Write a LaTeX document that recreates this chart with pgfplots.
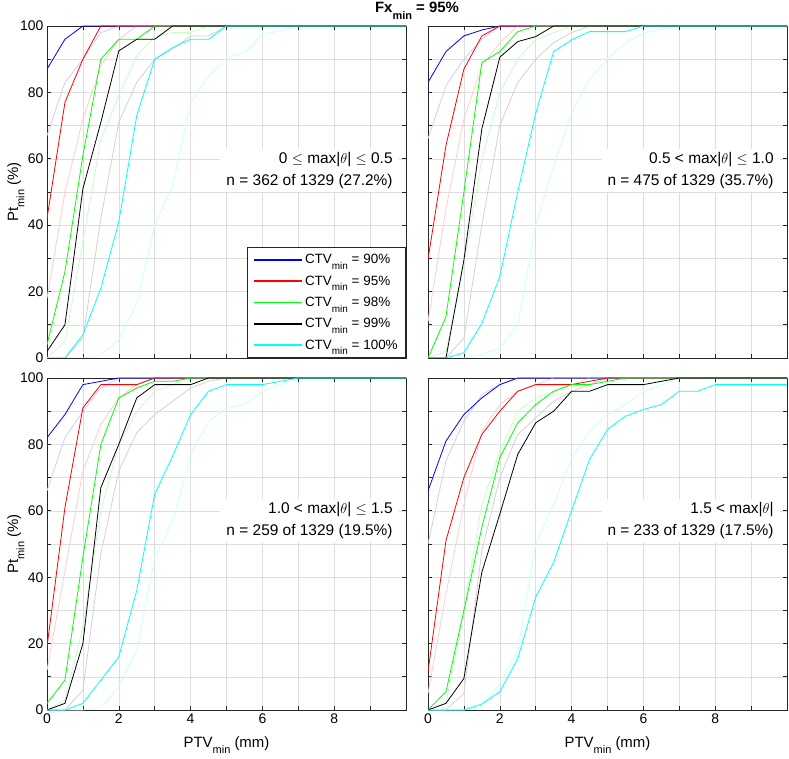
\documentclass[border=0pt]{standalone}
\usepackage{fontspec}
\setmainfont{Liberation Sans}
\usepackage{pgfplots}
\pgfplotsset{compat=1.18}
\definecolor{mB}{rgb}{0,0,1}
\definecolor{mR}{rgb}{1,0,0}
\definecolor{mG}{rgb}{0,1,0}
\definecolor{mK}{rgb}{0,0,0}
\definecolor{mC}{rgb}{0,1,1}
\definecolor{lB}{rgb}{0.8,0.8,1}
\definecolor{lR}{rgb}{1,0.8,0.8}
\definecolor{lG}{rgb}{0.78,1,0.78}
\definecolor{lK}{rgb}{0.82,0.82,0.82}
\definecolor{lC}{rgb}{0.8,1,1}
\newcommand{\sub}[2][10.5]{\raisebox{-0.42em}{\fontsize{#1}{#1}\selectfont #2}}
\tikzset{
  anno/.style={fill=white, align=right, anchor=east, inner xsep=6bp, inner ysep=3bp,
     font=\fontsize{15.5}{22.5}\selectfont},
}
\pgfplotsset{
  panel/.style={
    scale only axis, width=359bp, height=332bp,
    anchor=south west,
    xmin=0, xmax=10, ymin=0, ymax=100,
    xtick={0,...,10}, ytick={0,10,...,100},
    xticklabels={0,,2,,4,,6,,8,,},
    yticklabels={0,,20,,40,,60,,80,,100},
    grid=major, major grid style={black!13, line width=0.5bp},
    axis line style={black!85, line width=0.6bp},
    every tick/.style={black!85, line width=0.6bp},
    major tick length=4bp,
    tick align=inside,
    tick label style={font=\fontsize{14}{14}\selectfont},
    /pgf/number format/assume math mode=true,
    every axis plot/.append style={line join=round, mark=none, line width=0.8bp},
  },
}
\begin{document}
\begin{tikzpicture}
\useasboundingbox (0,0) rectangle (789bp,759bp);
% ---------------- top left
\begin{axis}[panel, at={(47bp,401bp)}, xticklabels={},
  legend style={at={(1,0)}, anchor=south east, draw=black!85, fill=white, line width=0.6bp,
    font=\fontsize{13.5}{13.5}\selectfont, row sep=6.5bp, inner xsep=6bp, inner ysep=5bp},
  legend cell align=left,
  legend image code/.code={\draw[#1, line width=1.6bp] (0bp,0bp) -- (48bp,0bp);}]
\addplot[lB, forget plot] coordinates {(0,67)(0.5,83)(1,90)(1.5,98)(2,100)(10,100)};
\addplot[lR, forget plot] coordinates {(0,18)(0.5,50)(1,72)(1.5,88)(2,96)(2.5,100)(10,100)};
\addplot[lG, forget plot] coordinates {(0,0)(0.5,5)(1,35)(1.5,66)(2,79)(2.5,91)(3,97)(3.5,98)(4,98)(4.5,100)(10,100)};
\addplot[lK, forget plot] coordinates {(0,0)(0.5,0)(1,6)(1.5,42)(2,71)(2.5,83)(3,90)(3.5,93)(4,97)(4.5,97)(5,100)(10,100)};
\addplot[lC, forget plot] coordinates {(0,0)(1,0)(1.5,1)(2,5.5)(2.5,16.5)(3,40)(3.5,52)(4,77)(4.5,85)(5,90.5)(5.5,92)(6,97.5)(6.5,98.5)(7,100)(10,100)};
\addplot[mB] coordinates {(0,87)(0.5,96)(1,100)(10,100)};
\addlegendentry{CTV\sub[10]{min} = 90\%}
\addplot[mR] coordinates {(0,42)(0.5,77)(1,90)(1.5,100)(10,100)};
\addlegendentry{CTV\sub[10]{min} = 95\%}
\addplot[mG] coordinates {(0,4)(0.5,26)(1,61)(1.5,90)(2,96)(2.5,96)(3,100)(10,100)};
\addlegendentry{CTV\sub[10]{min} = 98\%}
\addplot[mK] coordinates {(0,2)(0.5,10)(1,51)(1.5,71)(2,92.5)(2.5,96)(3,96)(3.5,100)(10,100)};
\addlegendentry{CTV\sub[10]{min} = 99\%}
\addplot[mC] coordinates {(0,0)(0.5,0)(1,7)(1.5,21)(2,41)(2.5,73)(3,90)(3.5,93.5)(4,96)(4.5,96)(5,100)(10,100)};
\addlegendentry{CTV\sub[10]{min} = 100\%}
\node[anno] at (axis cs:9.8,56.5) {0 $\leq$ max|$\theta$| $\leq$ 0.5\\n = 362 of 1329 (27.2\%)};
\end{axis}
% ---------------- top right
\begin{axis}[panel, at={(428bp,401bp)}, xticklabels={}, yticklabels={}]
\addplot[lB] coordinates {(0,66)(0.5,82)(1,90)(1.5,96)(2,100)(10,100)};
\addplot[lR] coordinates {(0,11)(0.5,45)(1,72)(1.5,88)(2,95)(2.5,100)(10,100)};
\addplot[lG] coordinates {(0,0)(0.5,2)(1,28)(1.5,60)(2,80)(2.5,90)(3,96)(3.5,98)(4,100)(10,100)};
\addplot[lK] coordinates {(0,0)(0.5,0)(1,6)(1.5,40)(2,70)(2.5,83)(3,90)(3.5,95)(4,98)(4.5,100)(10,100)};
\addplot[lC] coordinates {(0,0)(1,0)(1.5,1)(2,3)(2.5,10)(3,40)(3.5,58)(4,74)(4.5,84)(5,90)(5.5,95)(6,98)(7,100)(10,100)};
\addplot[mB] coordinates {(0,83)(0.5,92.3)(1,97)(1.5,98.8)(2,100)(10,100)};
\addplot[mR] coordinates {(0,29.7)(0.5,64)(1,87)(1.5,97)(2,100)(10,100)};
\addplot[mG] coordinates {(0,0)(0.5,12.4)(1,50)(1.5,89)(2,92.3)(2.5,98.3)(3,100)(10,100)};
\addplot[mK] coordinates {(0,0)(0.5,0)(1,29.5)(1.5,69)(2,90.6)(2.5,95.3)(3,96.8)(3.5,100)(10,100)};
\addplot[mC] coordinates {(0,0)(0.5,0)(1,1.6)(1.5,10.4)(2,24.5)(2.5,50)(3,73.7)(3.5,92.3)(4,95.8)(4.5,98.3)(5,98.3)(5.5,98.3)(6,100)(10,100)};
\node[anno] at (axis cs:9.8,56.5) {0.5 < max|$\theta$| $\leq$ 1.0\\n = 475 of 1329 (35.7\%)};
\end{axis}
% ---------------- bottom left
\begin{axis}[panel, at={(47bp,49bp)}]
\addplot[lB] coordinates {(0,66)(0.5,82)(1,90)(1.5,97)(2,100)(10,100)};
\addplot[lR] coordinates {(0,12)(0.5,42)(1,72)(1.5,86)(2,94)(2.5,98)(3,100)(10,100)};
\addplot[lG] coordinates {(0,0)(0.5,3)(1,25)(1.5,60)(2,80)(2.5,90)(3,96)(3.5,98)(4,100)(10,100)};
\addplot[lK] coordinates {(0,0)(0.5,0)(1,6)(1.5,47)(2,72)(2.5,83.5)(3,89)(3.5,93)(4,97)(4.5,99)(5,100)(10,100)};
\addplot[lC] coordinates {(0,0)(1,0)(1.5,1)(2,7)(2.5,18)(3,46)(3.5,57)(4,77)(4.5,87)(5,91)(5.5,92)(6,96)(6.5,98)(7,100)(10,100)};
\addplot[mB] coordinates {(0,82)(0.5,89)(1,98)(1.5,99)(2,100)(10,100)};
\addplot[mR] coordinates {(0,19)(0.5,61)(1,91)(1.5,98)(2,98)(2.5,98)(3,100)(10,100)};
\addplot[mG] coordinates {(0,2)(0.5,9)(1,46)(1.5,80)(2,94)(2.5,97)(3,99)(3.5,99)(4,100)(10,100)};
\addplot[mK] coordinates {(0,0)(0.5,2)(1,20)(1.5,67)(2,80)(2.5,94)(3,98)(3.5,98)(4,98)(4.5,100)(10,100)};
\addplot[mC] coordinates {(0,0)(0.5,0)(1,2)(1.5,9)(2,16)(2.5,36)(3,65)(3.5,76.5)(4,89)(4.5,96)(5,98)(5.5,98)(6,98)(6.5,99)(7,100)(10,100)};
\node[anno] at (axis cs:9.8,57) {1.0 < max|$\theta$| $\leq$ 1.5\\n = 259 of 1329 (19.5\%)};
\end{axis}
% ---------------- bottom right
\begin{axis}[panel, at={(428bp,49bp)}, yticklabels={}]
\addplot[lB] coordinates {(0,50)(0.5,75)(1,87)(1.5,95)(2,98)(2.5,100)(10,100)};
\addplot[lR] coordinates {(0,5)(0.5,35)(1,62)(1.5,84)(2,92)(2.5,96)(3,98)(3.5,100)(10,100)};
\addplot[lG] coordinates {(0,0)(0.5,2)(1,30)(1.5,62)(2,78)(2.5,90)(3,94)(3.5,96)(4,98)(4.5,100)(10,100)};
\addplot[lK] coordinates {(0,0)(0.5,0)(1,5)(1.5,48)(2,70)(2.5,83)(3,88)(3.5,93)(4,96)(4.5,98)(5,100)(10,100)};
\addplot[lC] coordinates {(0,0)(1,0)(1.5,1)(2,8)(2.5,18)(3,50)(3.5,62)(4,76)(4.5,84)(5,89)(5.5,92)(6,96)(6.5,98)(7,100)(10,100)};
\addplot[mB] coordinates {(0,66)(0.5,81)(1,89)(1.5,94)(2,98)(2.5,100)(10,100)};
\addplot[mR] coordinates {(0,11.5)(0.5,51)(1,70)(1.5,83)(2,90)(2.5,96)(3,98)(3.5,98)(4,98)(4.5,99)(5,100)(10,100)};
\addplot[mG] coordinates {(0,0)(0.5,5.5)(1,30)(1.5,55)(2,76)(2.5,86.5)(3,92)(3.5,96)(4,98)(4.5,98)(5,99)(5.5,100)(10,100)};
\addplot[mK] coordinates {(0,0)(0.5,2)(1,9.5)(1.5,41.5)(2,59)(2.5,77)(3,86.5)(3.5,90)(4,96)(4.5,96)(5,98)(5.5,98)(6,98)(6.5,99)(7,100)(10,100)};
\addplot[mC] coordinates {(0,0)(1,0)(1.5,1.8)(2,5.5)(2.5,15.5)(3,34)(3.5,44.5)(4,60)(4.5,75.5)(5,84.5)(5.5,88.5)(6,90.5)(6.5,92)(7,96)(7.5,96)(8,98)(10,98)};
\node[anno] at (axis cs:9.8,57) {1.5 < max|$\theta$|\\n = 233 of 1329 (17.5\%)};
\end{axis}
% ---------------- labels
\node[anchor=base, font=\bfseries\fontsize{15}{15}\selectfont] at (417bp,746bp) {Fx\sub[11]{min} = 95\%};
\node[anchor=base, rotate=90, font=\fontsize{15}{15}\selectfont] at (18bp,567bp) {Pt\sub[11]{min} (\%)};
\node[anchor=base, rotate=90, font=\fontsize{15}{15}\selectfont] at (18bp,215bp) {Pt\sub[11]{min} (\%)};
\node[anchor=base, font=\fontsize{15}{15}\selectfont] at (226.5bp,12bp) {PTV\sub[11]{min} (mm)};
\node[anchor=base, font=\fontsize{15}{15}\selectfont] at (607.5bp,12bp) {PTV\sub[11]{min} (mm)};
\end{tikzpicture}
\end{document}
